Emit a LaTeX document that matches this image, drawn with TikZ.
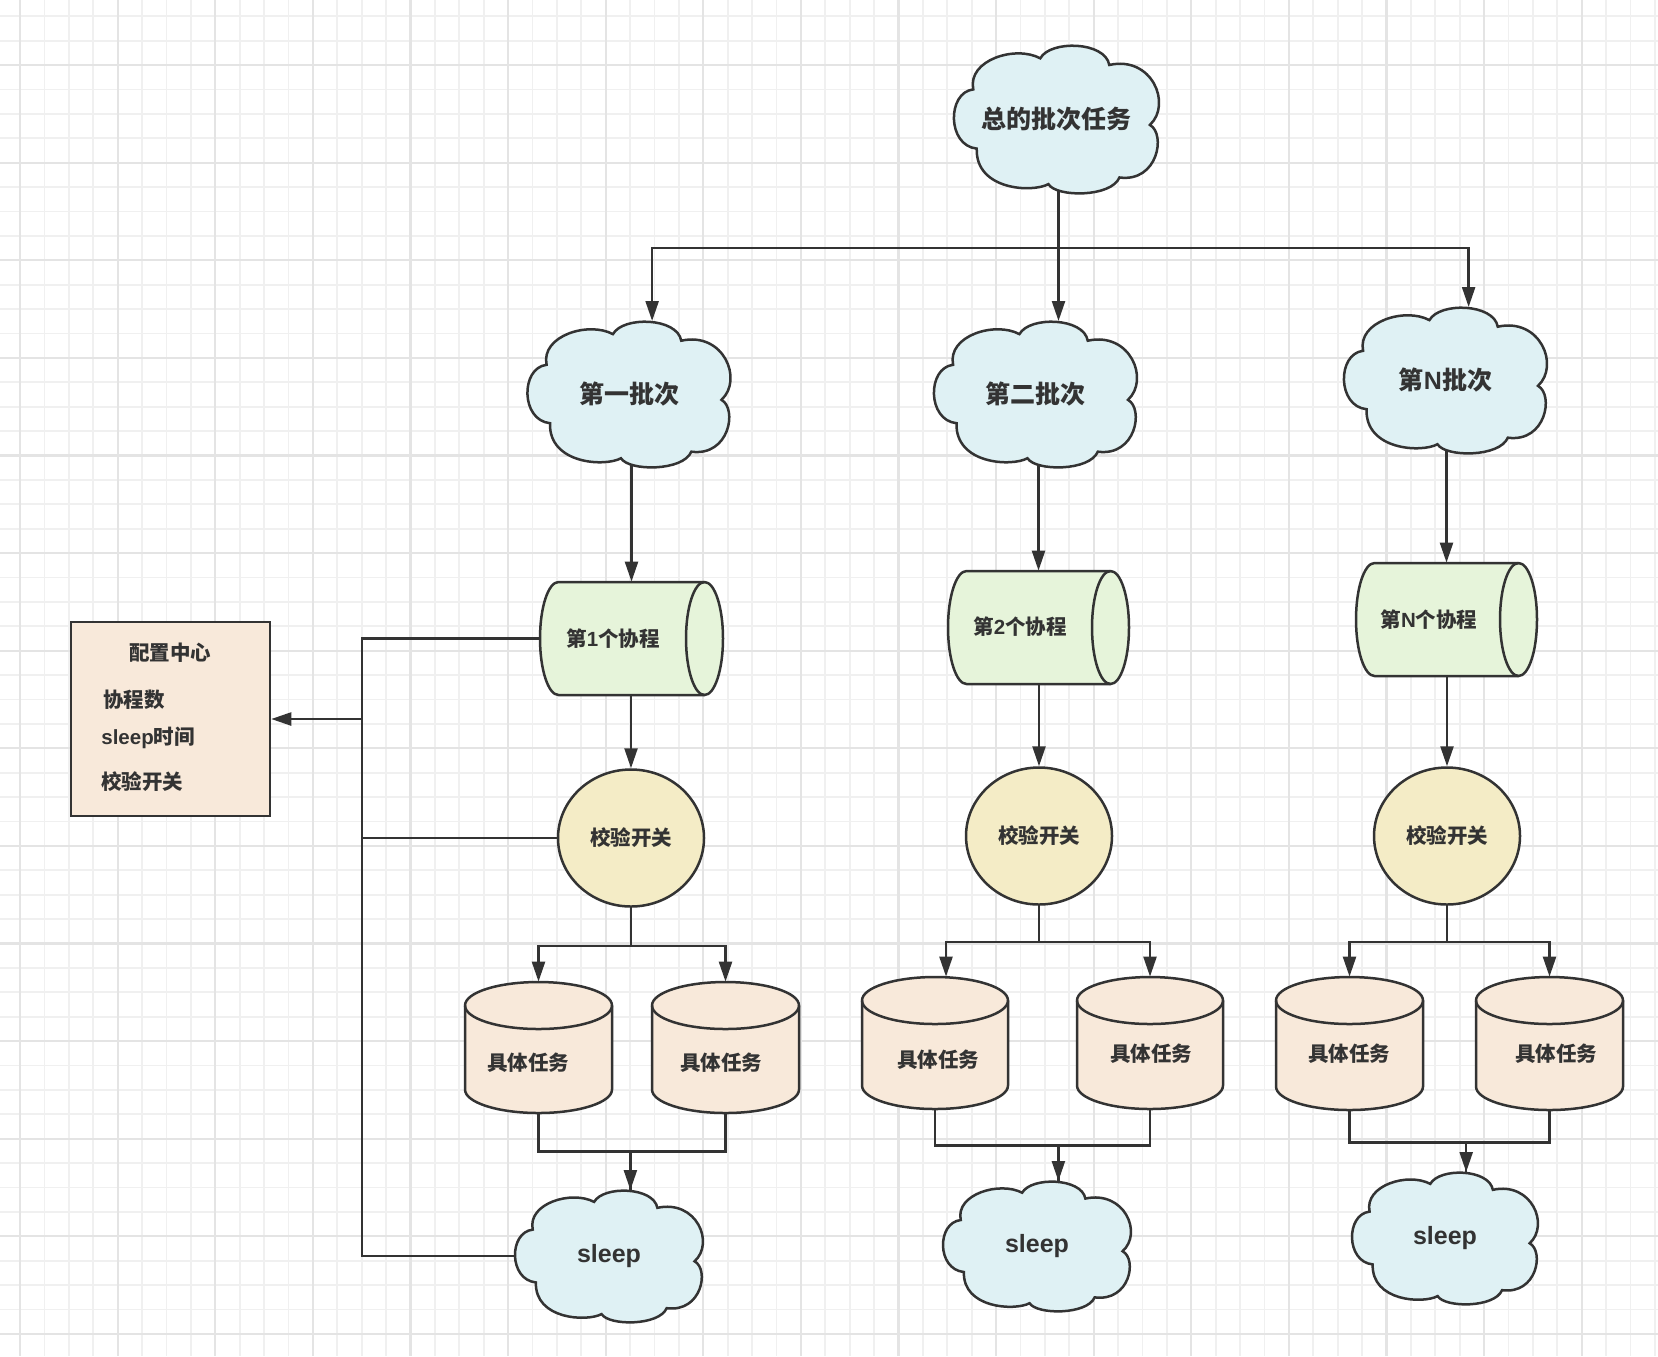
\documentclass[tikz,border=0pt]{standalone}
\usepackage{fontspec}
\setmainfont{Liberation Sans}
\newfontfamily\cjk{Noto Sans CJK SC}
\usetikzlibrary{arrows.meta,shapes.geometric,calc}
\pgfdeclarelayer{grid}
\pgfdeclarelayer{edges}
\pgfsetlayers{grid,edges,main}
\definecolor{lnc}{HTML}{333333}
\definecolor{cloudc}{HTML}{DFF1F4}
\definecolor{greenc}{HTML}{E6F4DA}
\definecolor{yellc}{HTML}{F4ECC6}
\definecolor{peachc}{HTML}{F8E9DA}
\definecolor{gminorc}{HTML}{F0F0F0}
\definecolor{gmajorc}{HTML}{E4E4E4}
\newcommand\zh[1]{{\cjk #1}}
\newcommand\bigf{\fontsize{12.5pt}{15pt}\selectfont\bfseries}
\newcommand\smf{\fontsize{10.25pt}{12pt}\selectfont\bfseries}

% cloud: name, left, top, width, height, text
\newcommand\cloudnode[6]{%
  \begin{scope}[shift={(#2,#3)},xscale=#4,yscale=#5]
    \filldraw[cloudsty] (0.42,0.09) .. controls (0.47,-0.035) and (0.74,-0.025) .. (0.76,0.135)
      .. controls (0.97,0.07) and (1.07,0.4) .. (0.96,0.54)
      .. controls (1.04,0.6) and (1.0,0.93) .. (0.81,0.895)
      .. controls (0.77,1.03) and (0.5,1.03) .. (0.46,0.94)
      .. controls (0.38,1.0) and (0.1,0.98) .. (0.107,0.70)
      .. controls (-0.04,0.68) and (-0.04,0.32) .. (0.09,0.30)
      .. controls (0.06,0.1) and (0.3,0.0) .. (0.42,0.09) -- cycle;
  \end{scope}
  \node[ghost,txt,font=\bigf,minimum width=#4*0.5pt,minimum height=#5*0.5pt] (#1) at ({#2+#4/2},{#3+#5/2}) {#6};
  \coordinate (#1-top) at ({#2+0.615*#4},#3);
}
% vertical cylinder: name, L, T, R, B
\newcommand\vcylnode[5]{%
  \pgfmathsetmacro\cylrx{(#4-#2)/2}
  \filldraw[vcylsty] (#2,#3+23.5) -- (#2,#5-23.5) arc[start angle=180,end angle=0,x radius=\cylrx,y radius=23.5]
     -- (#4,#3+23.5) arc[start angle=0,end angle=-180,x radius=\cylrx,y radius=23.5] -- cycle;
  \draw[shapeln] (#2,#3+23.5) arc[start angle=180,end angle=0,x radius=\cylrx,y radius=23.5];
  \node[ghost,minimum width={(#4-#2)*0.5pt},minimum height={(#5-#3)*0.5pt}] (#1) at ({(#2+#4)/2},{(#3+#5)/2}) {};
}
% horizontal cylinder: name, L, T, R, B
\newcommand\hcylnode[5]{%
  \pgfmathsetmacro\cylry{(#5-#3)/2}
  \filldraw[hcylsty] (#2+18.5,#3) -- (#4-18.5,#3) arc[start angle=270,end angle=450,x radius=18.5,y radius=\cylry]
     -- (#2+18.5,#5) arc[start angle=90,end angle=270,x radius=18.5,y radius=\cylry] -- cycle;
  \draw[shapeln] (#4-18.5,#3) arc[start angle=270,end angle=90,x radius=18.5,y radius=\cylry];
  \node[ghost,minimum width={(#4-#2)*0.5pt},minimum height={(#5-#3)*0.5pt}] (#1) at ({(#2+#4)/2},{(#3+#5)/2}) {};
}

\begin{document}
\begin{tikzpicture}[x=0.5pt,y=-0.5pt,
  shapeln/.style={draw=lnc,line width=1.25pt},
  arr/.style={draw=lnc,line width=1.2pt,-{Triangle[length=10pt,width=6.5pt]}},
  plain/.style={draw=lnc,line width=1.2pt},
  ghost/.style={draw=none,inner sep=0pt,rectangle},
  txt/.style={text=lnc,inner sep=0pt},
  cloudsty/.style={fill=cloudc,draw=lnc,line width=1.25pt},
  vcylsty/.style={fill=peachc,draw=lnc,line width=1.25pt},
  hcylsty/.style={fill=greenc,draw=lnc,line width=1.25pt},
  chk/.style={ellipse,fill=yellc,draw=lnc,line width=1.25pt,inner sep=0pt,minimum width=73pt,minimum height=68.5pt,text=lnc,font=\smf},
  cfgsty/.style={rectangle,fill=peachc,draw=lnc,line width=1.25pt,inner sep=0pt},
  gminor/.style={draw=gminorc,line width=0.9pt},
  gmajor/.style={draw=gmajorc,line width=1.1pt}]
\useasboundingbox (0,0) rectangle (1658,1356);

\begin{pgfonlayer}{grid}
  \fill[white] (0,0) rectangle (1658,1356);
  \foreach \k in {0,...,67} \draw[gminor] ({20+24.4*\k},0) -- ({20+24.4*\k},1356);
  \foreach \k in {0,...,54} \draw[gminor] (0,{16.2+24.4*\k}) -- (1658,{16.2+24.4*\k});
  \foreach \k in {0,...,16} \draw[gmajor] ({20+97.6*\k},0) -- ({20+97.6*\k},1356);
  \foreach \k in {0,...,13} \draw[gmajor] (0,{65+97.6*\k}) -- (1658,{65+97.6*\k});
\end{pgfonlayer}

% clouds
\cloudnode{T}{955}{45}{203}{148}{\zh{总的批次任务}}
\cloudnode{B1}{528.5}{321}{201}{146}{\zh{第一批次}}
\cloudnode{B2}{935}{321}{201}{146}{\zh{第二批次}}
\cloudnode{BN}{1345}{307}{201}{146}{\zh{第}N\zh{批次}}
\cloudnode{S1}{516}{1190}{186}{132}{sleep}
\cloudnode{S2}{944}{1181}{186}{130}{sleep}
\cloudnode{SN}{1353}{1172}{184}{132}{sleep}

% coroutine cylinders
\hcylnode{H1}{540}{582}{723}{695}
\hcylnode{H2}{948}{571}{1129}{684}
\hcylnode{HN}{1356}{563}{1537}{676}
\node[txt,font=\smf] (H1-t) at (613,639) {\zh{第}1\zh{个协程}};
\node[txt,font=\smf] (H2-t) at (1020,627) {\zh{第}2\zh{个协程}};
\node[txt,font=\smf] (HN-t) at (1429,620) {\zh{第}N\zh{个协程}};

% check switches
\node[chk] (C1) at (631,838) {\zh{校验开关}};
\node[chk] (C2) at (1039,836) {\zh{校验开关}};
\node[chk] (CN) at (1447,836) {\zh{校验开关}};

% task cylinders
\vcylnode{T1a}{465}{982}{612}{1113}
\vcylnode{T1b}{652}{982}{799}{1113}
\vcylnode{T2a}{862}{977}{1008}{1109}
\vcylnode{T2b}{1077}{977}{1223}{1109}
\vcylnode{TNa}{1276}{977}{1423}{1110}
\vcylnode{TNb}{1476}{977}{1623}{1110}
\node[txt,font=\smf] (T1a-t) at (528,1063) {\zh{具体任务}};
\node[txt,font=\smf] (T1b-t) at (721,1063) {\zh{具体任务}};
\node[txt,font=\smf] (T2a-t) at (938,1060) {\zh{具体任务}};
\node[txt,font=\smf] (T2b-t) at (1151,1054) {\zh{具体任务}};
\node[txt,font=\smf] (TNa-t) at (1349,1054) {\zh{具体任务}};
\node[txt,font=\smf] (TNb-t) at (1556,1054) {\zh{具体任务}};

% config centre
\node[cfgsty,minimum width=99.5pt,minimum height=97pt] (cfg) at (170.5,719) {};
\node[txt,font=\smf] (cfg-t) at (170,653) {\zh{配置中心}};
\node[txt,font=\smf,anchor=west] (cfg-a) at (103,700) {\zh{协程数}};
\node[txt,font=\smf,anchor=west] (cfg-b) at (101,738) {sleep\zh{时间}};
\node[txt,font=\smf,anchor=west] (cfg-c) at (101,782) {\zh{校验开关}};

\coordinate (tj) at (1058.5,248);
\coordinate (J) at (362,719);

\begin{pgfonlayer}{edges}
  % top split
  \draw[plain] (tj |- T.center) -- (tj);
  \draw[arr] (tj) -| (B1-top);
  \draw[arr] (tj) -- (tj |- B2-top);
  \draw[arr] (tj) -| (BN-top);
  % column 1
  \draw[arr] (B1.center -| H1.north) -- (H1.north);
  \draw[arr] (H1.south -| C1.north) -- (C1.north);
  \draw[arr] (C1.south) -- ++(0,38) -| (T1a.north);
  \draw[arr] (C1.south) -- ++(0,38) -| (T1b.north);
  \draw[plain] (T1a.south) -- ++(0,38) -| (S1-top);
  \draw[arr] (T1b.south) -- ++(0,38) -| (S1-top);
  % column 2
  \draw[arr] (B2.center -| H2.north) -- (H2.north);
  \draw[arr] (H2.south -| C2.north) -- (C2.north);
  \draw[arr] (C2.south) -- ++(0,36) -| ($(T2a.north)+(11,0)$);
  \draw[arr] (C2.south) -- ++(0,36) -| (T2b.north);
  \draw[plain] (T2a.south) -- ++(0,36) -| (S2-top);
  \draw[arr] (T2b.south) -- ++(0,36) -| (S2-top);
  % column N
  \draw[arr] (BN.center -| HN.north) -- (HN.north);
  \draw[arr] (HN.south -| CN.north) -- (CN.north);
  \draw[arr] (CN.south) -- ++(0,36) -| (TNa.north);
  \draw[arr] (CN.south) -- ++(0,36) -| (TNb.north);
  \draw[plain] (TNa.south) -- ++(0,32) -| (SN-top);
  \draw[arr] (TNb.south) -- ++(0,32) -| (SN-top);
  % to config centre
  \draw[arr] (H1.west) -| (J) -- (cfg.east);
  \draw[plain] (C1.west) -| (J);
  \draw[plain] (S1.center) -| (J);
\end{pgfonlayer}
\end{tikzpicture}
\end{document}
